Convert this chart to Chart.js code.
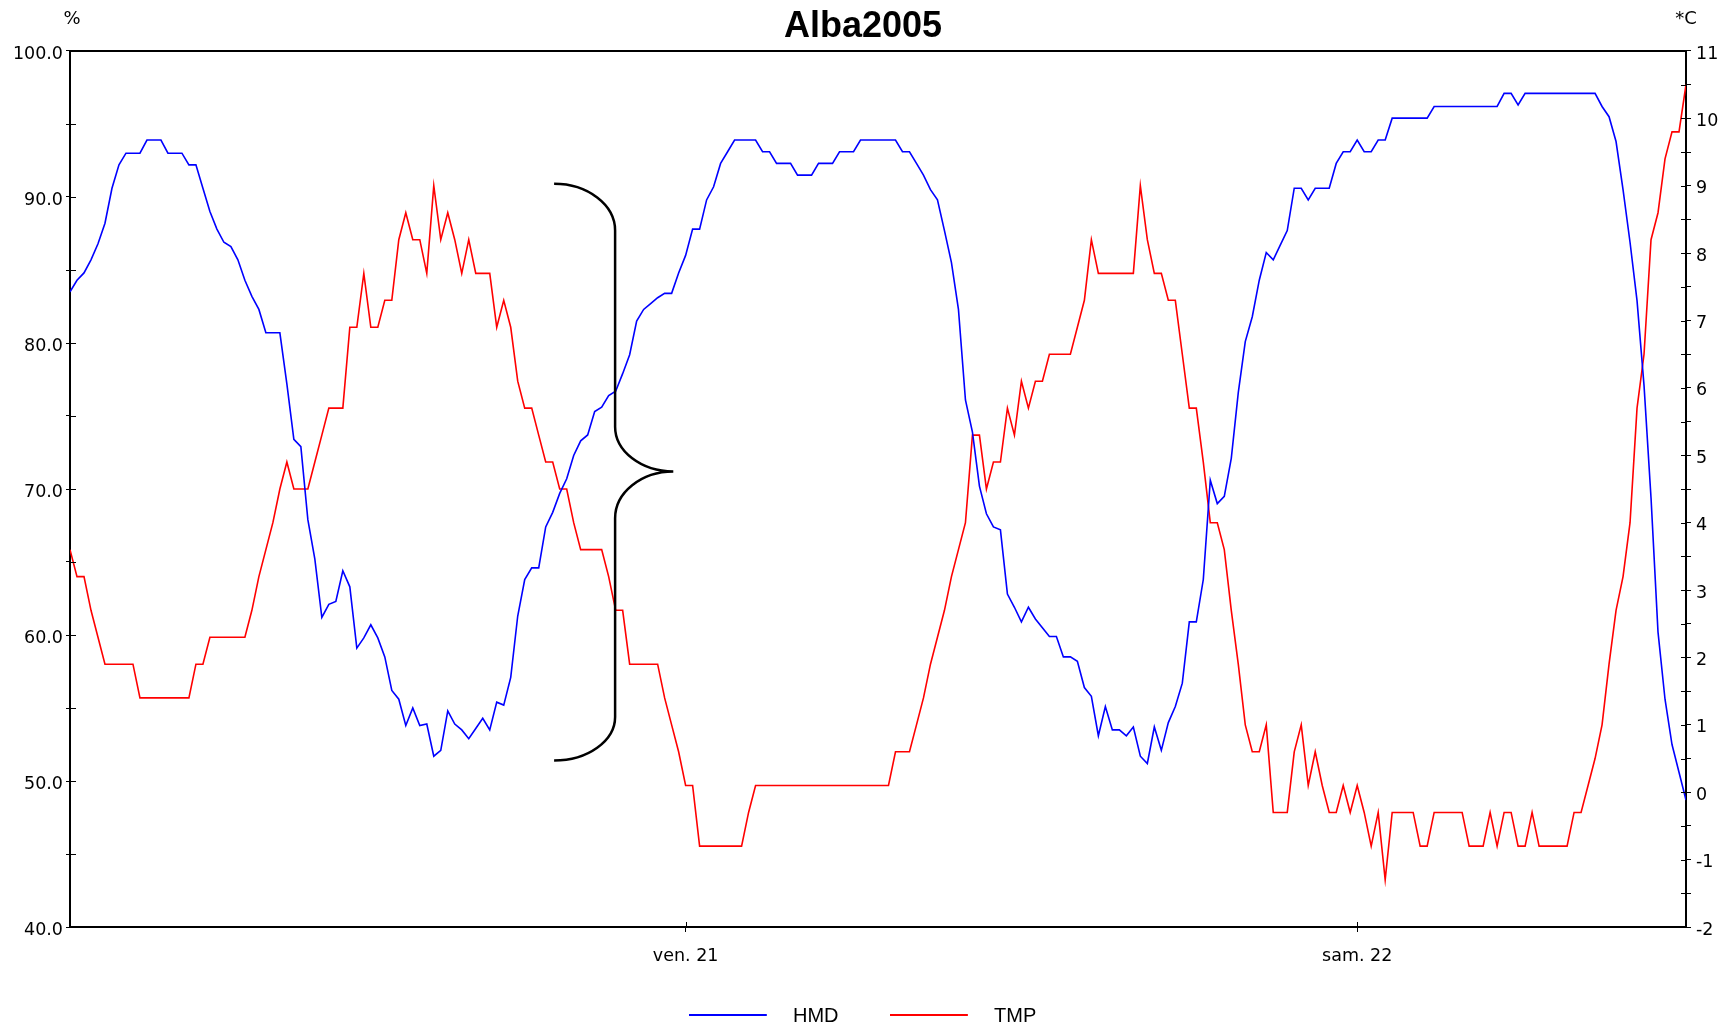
<!DOCTYPE html>
<html>
<head>
<meta charset="utf-8">
<script src="https://cdn.jsdelivr.net/npm/chart.js@4.4.1/dist/chart.umd.min.js"></script>
<style>
html, body { margin: 0; padding: 0; background: #fff; }
</style>
</head>
<body>
<canvas id="myChart" width="1736" height="1029"></canvas>
<script>
// samples every 15 min, starting 20th 02:00 (hours counted from 20th 00:00)
const startHour = 2;
const stepHour = 0.25;

const dayTicks = [24, 48];
const dayLabels = ['ven. 21', 'sam. 22'];

const hmdValues = [
    83.5, 84.3, 84.8, 85.7, 86.8, 88.2, 90.6, 92.2, 93.0, 93.0,
    93.0, 93.9, 93.9, 93.9, 93.0, 93.0, 93.0, 92.2, 92.2, 90.6,
    89.0, 87.8, 86.9, 86.6, 85.7, 84.3, 83.2, 82.3, 80.7, 80.7,
    80.7, 77.2, 73.4, 72.9, 67.9, 65.2, 61.2, 62.1, 62.3, 64.4,
    63.3, 59.1, 59.8, 60.7, 59.8, 58.5, 56.2, 55.6, 53.8, 55.0,
    53.8, 53.9, 51.7, 52.1, 54.8, 53.9, 53.5, 52.9, 53.6, 54.3,
    53.5, 55.4, 55.2, 57.1, 61.3, 63.8, 64.6, 64.6, 67.4, 68.4,
    69.7, 70.7, 72.3, 73.3, 73.7, 75.3, 75.6, 76.4, 76.7, 77.9,
    79.2, 81.5, 82.3, 82.7, 83.1, 83.4, 83.4, 84.8, 86.0, 87.8,
    87.8, 89.8, 90.7, 92.3, 93.1, 93.9, 93.9, 93.9, 93.9, 93.1,
    93.1, 92.3, 92.3, 92.3, 91.5, 91.5, 91.5, 92.3, 92.3, 92.3,
    93.1, 93.1, 93.1, 93.9, 93.9, 93.9, 93.9, 93.9, 93.9, 93.1,
    93.1, 92.3, 91.5, 90.5, 89.8, 87.7, 85.5, 82.3, 76.1, 73.9,
    70.2, 68.3, 67.4, 67.2, 62.8, 61.9, 60.9, 61.9, 61.1, 60.5,
    59.9, 59.9, 58.5, 58.5, 58.2, 56.4, 55.8, 53.1, 55.1, 53.5,
    53.5, 53.1, 53.7, 51.7, 51.2, 53.7, 52.1, 54.0, 55.1, 56.7,
    60.9, 60.9, 63.8, 70.6, 69.0, 69.5, 72.1, 76.6, 80.1, 81.8,
    84.3, 86.2, 85.7, 86.7, 87.7, 90.6, 90.6, 89.8, 90.6, 90.6,
    90.6, 92.3, 93.1, 93.1, 93.9, 93.1, 93.1, 93.9, 93.9, 95.4,
    95.4, 95.4, 95.4, 95.4, 95.4, 96.2, 96.2, 96.2, 96.2, 96.2,
    96.2, 96.2, 96.2, 96.2, 96.2, 97.1, 97.1, 96.3, 97.1, 97.1,
    97.1, 97.1, 97.1, 97.1, 97.1, 97.1, 97.1, 97.1, 97.1, 96.2,
    95.5, 93.8, 90.5, 86.9, 82.9, 77.1, 69.4, 60.2, 55.6, 52.5,
    50.6, 48.7
];

const tmpValues = [
    3.6, 3.2, 3.2, 2.7, 2.3, 1.9, 1.9, 1.9, 1.9, 1.9,
    1.4, 1.4, 1.4, 1.4, 1.4, 1.4, 1.4, 1.4, 1.9, 1.9,
    2.3, 2.3, 2.3, 2.3, 2.3, 2.3, 2.7, 3.2, 3.6, 4.0,
    4.5, 4.9, 4.5, 4.5, 4.5, 4.9, 5.3, 5.7, 5.7, 5.7,
    6.9, 6.9, 7.7, 6.9, 6.9, 7.3, 7.3, 8.2, 8.6, 8.2,
    8.2, 7.7, 9.0, 8.2, 8.6, 8.2, 7.7, 8.2, 7.7, 7.7,
    7.7, 6.9, 7.3, 6.9, 6.1, 5.7, 5.7, 5.3, 4.9, 4.9,
    4.5, 4.5, 4.0, 3.6, 3.6, 3.6, 3.6, 3.2, 2.7, 2.7,
    1.9, 1.9, 1.9, 1.9, 1.9, 1.4, 1.0, 0.6, 0.1, 0.1,
    -0.8, -0.8, -0.8, -0.8, -0.8, -0.8, -0.8, -0.3, 0.1, 0.1,
    0.1, 0.1, 0.1, 0.1, 0.1, 0.1, 0.1, 0.1, 0.1, 0.1,
    0.1, 0.1, 0.1, 0.1, 0.1, 0.1, 0.1, 0.1, 0.6, 0.6,
    0.6, 1.0, 1.4, 1.9, 2.3, 2.7, 3.2, 3.6, 4.0, 5.3,
    5.3, 4.5, 4.9, 4.9, 5.7, 5.3, 6.1, 5.7, 6.1, 6.1,
    6.5, 6.5, 6.5, 6.5, 6.9, 7.3, 8.2, 7.7, 7.7, 7.7,
    7.7, 7.7, 7.7, 9.0, 8.2, 7.7, 7.7, 7.3, 7.3, 6.5,
    5.7, 5.7, 4.9, 4.0, 4.0, 3.6, 2.7, 1.9, 1.0, 0.6,
    0.6, 1.0, -0.3, -0.3, -0.3, 0.6, 1.0, 0.1, 0.6, 0.1,
    -0.3, -0.3, 0.1, -0.3, 0.1, -0.3, -0.8, -0.3, -1.3, -0.3,
    -0.3, -0.3, -0.3, -0.8, -0.8, -0.3, -0.3, -0.3, -0.3, -0.3,
    -0.8, -0.8, -0.8, -0.3, -0.8, -0.3, -0.3, -0.8, -0.8, -0.3,
    -0.8, -0.8, -0.8, -0.8, -0.8, -0.3, -0.3, 0.1, 0.5, 1.0,
    1.9, 2.7, 3.2, 4.0, 5.7, 6.5, 8.2, 8.6, 9.4, 9.8,
    9.8, 10.5
];

// curly brace drawn over the chart: hours on x, % on the left axis
const braceX = [19.3, 21.48, 23.56];           // open end, spine, tip
const braceY = [90.9, 87.7, 74.26, 71.2, 68.0, 54.38, 51.4];

const tickFont = { family: 'DejaVu Sans', size: 17.5 };

function legendLine(color) {
    const c = document.createElement('canvas');
    c.width = 82;
    c.height = 4;
    const g = c.getContext('2d');
    g.fillStyle = color;
    g.fillRect(0, 0, 78, 2);
    return c;
}

const extras = {
    id: 'extras',
    afterLayout(chart) {
        // legend sits a bit left of the title centre
        chart.legend.left -= 6.6;
        chart.legend.right -= 6.6;
    },
    afterDatasetsDraw(chart) {
        const ctx = chart.ctx;
        const x = chart.scales.x, y = chart.scales.yH;
        const x0 = x.getPixelForValue(braceX[0]);
        const x1 = x.getPixelForValue(braceX[1]);
        const x2 = x.getPixelForValue(braceX[2]);
        const p = braceY.map(v => y.getPixelForValue(v));
        const k = 0.55;
        ctx.save();
        ctx.strokeStyle = '#000';
        ctx.lineWidth = 2.5;
        ctx.beginPath();
        ctx.moveTo(x0, p[0]);
        ctx.bezierCurveTo(x0 + k * (x1 - x0), p[0], x1, p[1] - k * (p[1] - p[0]), x1, p[1]);
        ctx.lineTo(x1, p[2]);
        ctx.bezierCurveTo(x1, p[2] + k * (p[3] - p[2]), x2 - k * (x2 - x1), p[3], x2, p[3]);
        ctx.bezierCurveTo(x2 - k * (x2 - x1), p[3], x1, p[4] - k * (p[4] - p[3]), x1, p[4]);
        ctx.lineTo(x1, p[5]);
        ctx.bezierCurveTo(x1, p[5] + k * (p[6] - p[5]), x0 + k * (x1 - x0), p[6], x0, p[6]);
        ctx.stroke();
        ctx.restore();
    },
    afterDraw(chart) {
        const {ctx, chartArea: a, scales} = chart;
        ctx.save();
        ctx.strokeStyle = '#000';
        ctx.lineWidth = 2;
        ctx.beginPath();
        ctx.moveTo(a.left - 1, a.top);
        ctx.lineTo(a.right + 1, a.top);
        ctx.stroke();
        // inner half of the tick marks
        ctx.lineWidth = 1;
        ctx.beginPath();
        scales.yH.ticks.forEach(t => {
            const py = Math.round(scales.yH.getPixelForValue(t.value)) + 0.5;
            ctx.moveTo(a.left, py); ctx.lineTo(a.left + 6, py);
        });
        scales.yT.ticks.forEach(t => {
            const py = Math.round(scales.yT.getPixelForValue(t.value)) + 0.5;
            ctx.moveTo(a.right - 5, py); ctx.lineTo(a.right, py);
        });
        scales.x.ticks.forEach(t => {
            const px = Math.round(scales.x.getPixelForValue(t.value)) + 0.5;
            ctx.moveTo(px, a.bottom - 5); ctx.lineTo(px, a.bottom);
        });
        ctx.stroke();
        ctx.fillStyle = '#000';
        ctx.font = '18px "DejaVu Sans"';
        ctx.textAlign = 'center';
        ctx.textBaseline = 'middle';
        ctx.fillText('%', a.left + 2, 19);
        ctx.fillText('*C', a.right, 19);
        ctx.restore();
    }
};

const ctx = document.getElementById('myChart').getContext('2d');

const myChart = new Chart(ctx, {
    type: 'line',
    data: {
        datasets: [{
            label: 'HMD',
            data: hmdValues.map((v, i) => ({ x: startHour + i * stepHour, y: v })),
            borderColor: '#0000ff',
            backgroundColor: '#0000ff',
            borderWidth: 1.6,
            pointRadius: 0,
            tension: 0,
            yAxisID: 'yH'
        }, {
            label: 'TMP',
            data: tmpValues.map((v, i) => ({ x: startHour + i * stepHour, y: v })),
            borderColor: '#ff0000',
            backgroundColor: '#ff0000',
            borderWidth: 1.6,
            pointRadius: 0,
            tension: 0,
            yAxisID: 'yT'
        }]
    },
    options: {
        responsive: false,
        animation: false,
        devicePixelRatio: 1,
        layout: { padding: { left: 0, right: 10, top: 0, bottom: -7 } },
        plugins: {
            title: {
                display: true,
                text: 'Alba2005',
                color: '#000',
                font: { family: 'Liberation Sans', size: 36, weight: 'bold' },
                padding: { top: 5, bottom: 2.8 }
            },
            legend: {
                position: 'bottom',
                labels: {
                    color: '#000',
                    font: { family: 'Liberation Sans', size: 20 },
                    usePointStyle: true,
                    pointStyleWidth: 106.5,
                    padding: 39,
                    generateLabels: (chart) => chart.data.datasets.map((ds, i) => ({
                        text: ds.label,
                        pointStyle: legendLine(ds.borderColor),
                        fillStyle: ds.borderColor,
                        strokeStyle: ds.borderColor,
                        lineWidth: 0,
                        hidden: false,
                        datasetIndex: i,
                        fontColor: '#000'
                    }))
                }
            },
            tooltip: { enabled: false }
        },
        scales: {
            x: {
                type: 'linear',
                position: 'bottom',
                min: startHour,
                max: startHour + (hmdValues.length - 1) * stepHour,
                afterBuildTicks: (s) => { s.ticks = dayTicks.map(v => ({ value: v })); },
                afterFit: (s) => { s.height = 40; },
                ticks: {
                    color: '#000',
                    font: tickFont,
                    padding: 14,
                    maxRotation: 0,
                    autoSkip: false,
                    callback: (v) => dayLabels[dayTicks.indexOf(v)]
                },
                grid: { drawOnChartArea: false, tickLength: 5, tickColor: '#000', color: '#000' },
                border: { color: '#000', width: 2 }
            },
            yH: {
                position: 'left',
                min: 40,
                max: 100,
                afterFit: (s) => { s.width = 70; },
                ticks: {
                    stepSize: 5,
                    color: '#000',
                    font: tickFont,
                    padding: 3,
                    labelOffset: 3,
                    autoSkip: false,
                    callback: (v) => v % 10 === 0 ? v.toFixed(1) : ''
                },
                grid: { drawOnChartArea: false, tickLength: 4, tickColor: '#000', color: '#000' },
                border: { color: '#000', width: 2 }
            },
            yT: {
                position: 'right',
                min: -2,
                max: 11,
                afterFit: (s) => { s.width = 40; },
                ticks: {
                    stepSize: 0.5,
                    color: '#000',
                    font: tickFont,
                    padding: 5,
                    labelOffset: 3,
                    autoSkip: false,
                    callback: (v) => Number.isInteger(v) ? String(v) : ''
                },
                grid: { drawOnChartArea: false, tickLength: 5, tickColor: '#000', color: '#000' },
                border: { color: '#000', width: 2 }
            }
        }
    },
    plugins: [extras]
});
</script>
</body>
</html>
